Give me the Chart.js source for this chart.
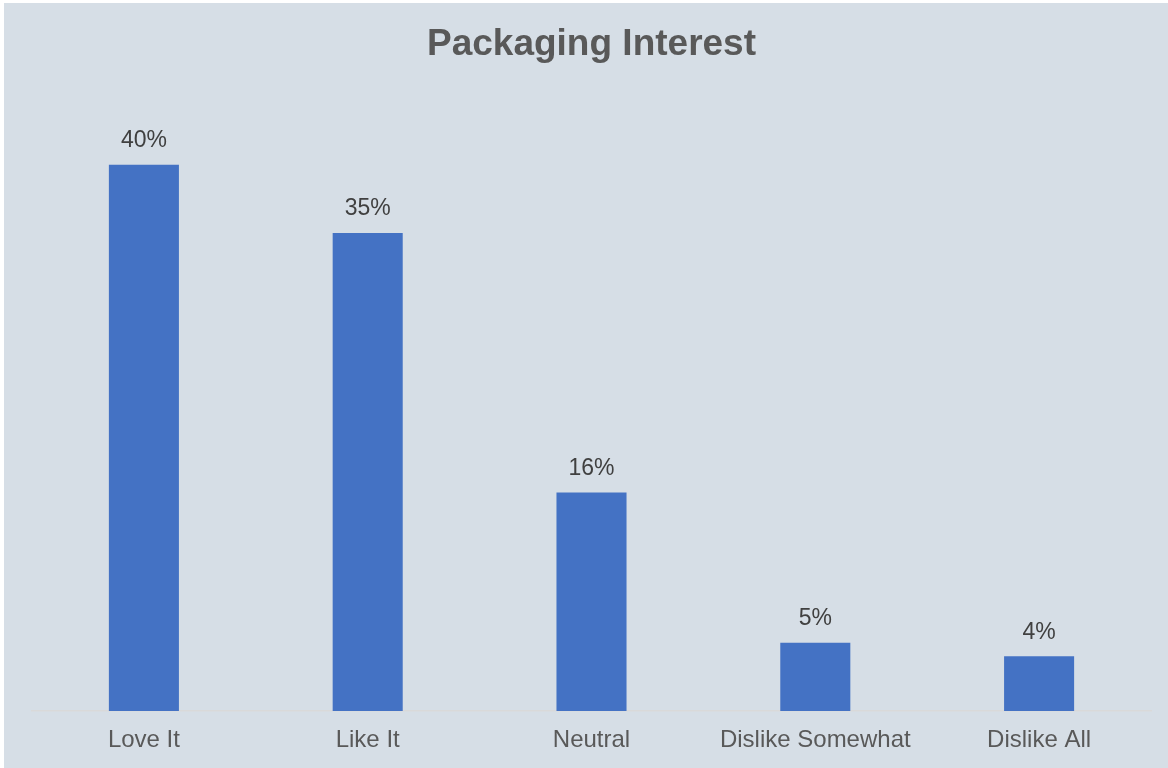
<!DOCTYPE html>
<html>
<head>
<meta charset="utf-8">
<script src="https://cdn.jsdelivr.net/npm/chart.js@4.4.1/dist/chart.umd.min.js"></script>
<style>
  html, body { margin: 0; padding: 0; background: #ffffff; }
  #wrap {
    position: absolute; left: 4px; top: 3px;
    width: 1164px; height: 765px;
    background: #d6dee6;
  }
</style>
</head>
<body>
<div id="wrap"><canvas id="barChart"></canvas></div>
<script>
// Packaging Interest — share of responses per answer
const categories = ['Love It', 'Like It', 'Neutral', 'Dislike Somewhat', 'Dislike All'];
const shares     = [40, 35, 16, 5, 4];

Chart.defaults.font.family = "'Liberation Sans', Arial, sans-serif";

// Percent labels above each bar (no datalabels plugin available)
const barLabels = {
    id: 'barLabels',
    afterDatasetsDraw(chart) {
        const { ctx } = chart;
        const meta = chart.getDatasetMeta(0);
        ctx.save();
        ctx.fillStyle = '#404040';
        ctx.font = "23px 'Liberation Sans', Arial, sans-serif";
        ctx.textAlign = 'center';
        ctx.textBaseline = 'middle';
        meta.data.forEach((bar, i) => {
            ctx.fillText(shares[i] + '%', bar.x, bar.y - 24);
        });
        ctx.restore();
    }
};

new Chart(document.getElementById('barChart'), {
    type: 'bar',
    data: {
        labels: categories,
        datasets: [{
            data: shares,
            backgroundColor: '#4472c4',
            borderWidth: 0,
            categoryPercentage: 1,
            barPercentage: 0.313,
        }]
    },
    options: {
        responsive: true,
        maintainAspectRatio: false,
        animation: false,
        layout: { padding: { left: 28, right: 17, top: 0, bottom: 0 } },
        plugins: {
            legend: { display: false },
            tooltip: { enabled: false },
            title: {
                display: true,
                text: 'Packaging Interest',
                color: '#595959',
                font: { size: 37, weight: 'bold' },
                padding: { top: 20, bottom: 29 }
            }
        },
        scales: {
            x: {
                grid: { display: false, drawTicks: false },
                border: { display: true, color: '#d9d9d9', width: 1.5 },
                ticks: { color: '#595959', font: { size: 24 }, padding: 15, maxRotation: 0 },
                afterFit: scale => { scale.height = 57; }
            },
            y: {
                display: false,
                min: 0,
                max: 45
            }
        }
    },
    plugins: [barLabels]
});
</script>
</body>
</html>
